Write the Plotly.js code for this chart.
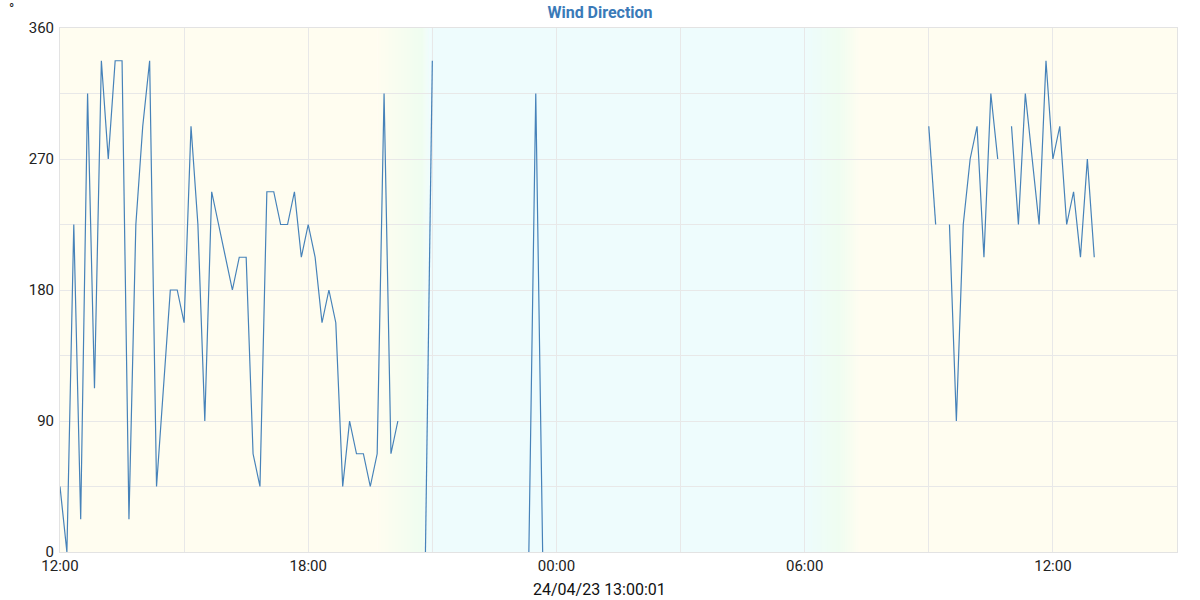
<!DOCTYPE html>
<html>
<head>
<meta charset="utf-8">
<script src="https://cdn.plot.ly/plotly-3.0.1.min.js"></script>
<style>html,body{margin:0;padding:0;background:#fff;}#chart{width:1200px;height:600px;}</style>
</head>
<body>
<div id="chart"></div>
<script>
// ---- Data (10-minute samples, degrees) ----
const segmentStarts = ["2023-04-23 12:00", "2023-04-23 20:50", "2023-04-23 23:20", "2023-04-24 09:00"];
const segment1 = [45, 0, 225, 22.5, 315, 112.5, 337.5, 270, 337.5, 337.5, 22.5, 225, 292.5, 337.5, 45, 112.5,
  180, 180, 157.5, 292.5, 225, 90, 247.5, 225, 202.5, 180, 202.5, 202.5, 67.5, 45, 247.5, 247.5, 225, 225,
  247.5, 202.5, 225, 202.5, 157.5, 180, 157.5, 45, 90, 67.5, 67.5, 45, 67.5, 315, 67.5, 90];
const segment2 = [0, 337.5];
const segment3 = [0, 315, 0];
const segment4 = [292.5, 225, null, 225, 90, 225, 270, 292.5, 202.5, 315, 270, null, 292.5, 225, 315, 270,
  225, 337.5, 270, 292.5, 225, 247.5, 202.5, 270, 202.5];
const segments = [segment1, segment2, segment3, segment4];

const xTickVals = ["2023-04-23 12:00", "2023-04-23 15:00", "2023-04-23 18:00", "2023-04-23 21:00", "2023-04-24 00:00",
  "2023-04-24 03:00", "2023-04-24 06:00", "2023-04-24 09:00", "2023-04-24 12:00", "2023-04-24 15:00"];
const xTickText = ["12:00", "", "18:00", "", "00:00", "", "06:00", "", "12:00", ""];
const yTickVals = [0, 45, 90, 135, 180, 225, 270, 315, 360];
const yTickText = ["0", "", "90", "", "180", "", "270", "", "360"];
const xTitle = "24/04/23 13:00:01";
const chartTitle = "Wind Direction";
const unitLabel = "°";

// day / night background periods
const dayColor = [255, 253, 240], dawnColor = [239, 253, 240], nightColor = [238, 252, 253];
const duskStart = "2023-04-23 19:40", duskMid = "2023-04-23 20:45", nightStart = "2023-04-23 20:57";
const nightEnd = "2023-04-24 06:00", dawnMid = "2023-04-24 06:50", dayStart = "2023-04-24 07:20";
const rangeStart = "2023-04-23 12:00", rangeEnd = "2023-04-24 15:00";

// ---- build ----
const STEP = 10 * 60 * 1000;
function toMs(s) { const [d, t] = s.split(" "); const [Y, M, D] = d.split("-").map(Number); const [h, m] = t.split(":").map(Number); return Date.UTC(Y, M - 1, D, h, m); }
function toStr(ms) { return new Date(ms).toISOString().replace("T", " ").slice(0, 19); }

const xs = [], ys = [];
segments.forEach((seg, i) => {
  const t0 = toMs(segmentStarts[i]);
  seg.forEach((v, j) => { xs.push(toStr(t0 + j * STEP)); ys.push(v); });
  xs.push(toStr(t0 + seg.length * STEP)); ys.push(null);
});

function rgb(c) { return "rgb(" + c.map(Math.round).join(",") + ")"; }
function mix(a, b, f) { return a.map((v, i) => v + (b[i] - v) * f); }
const shapes = [];
function rect(a, b, col) {
  shapes.push({ type: "rect", xref: "x", yref: "paper", x0: toStr(a), x1: toStr(b), y0: 0, y1: 1,
    fillcolor: col, line: { width: 0 }, layer: "below" });
}
function gradient(a, b, c1, c2) {
  const n = 30, ta = toMs(a), tb = toMs(b), w = (tb - ta) / n;
  for (let i = 0; i < n; i++) {
    rect(ta + i * w, ta + (i + 1.6) * w, rgb(mix(c1, c2, (i + 0.5) / n)));
  }
}
rect(toMs(rangeStart), toMs(duskStart), rgb(dayColor));
rect(toMs(nightStart), toMs(nightEnd), rgb(nightColor));
rect(toMs(dayStart), toMs(rangeEnd), rgb(dayColor));
gradient(duskStart, duskMid, dayColor, dawnColor);
gradient(duskMid, nightStart, dawnColor, nightColor);
gradient(nightEnd, dawnMid, nightColor, dawnColor);
gradient(dawnMid, dayStart, dawnColor, dayColor);

const trace = {
  x: xs, y: ys, type: "scatter", mode: "lines",
  line: { color: "rgb(70,130,185)", width: 1.2 },
  connectgaps: false, hoverinfo: "skip", showlegend: false
};

const layout = {
  width: 1200, height: 600,
  margin: { l: 60, r: 23, t: 28, b: 48 },
  paper_bgcolor: "#ffffff", plot_bgcolor: "#ffffff",
  font: { family: "Roboto, 'Noto Sans', sans-serif", size: 15, color: "#222" },
  title: { text: "<b>" + chartTitle + "</b>", x: 0.5, xref: "container", y: 0.98, yref: "container", yanchor: "middle",
    font: { size: 16, color: "rgb(58,122,184)", family: "Roboto, sans-serif" } },
  xaxis: {
    type: "date", range: [rangeStart, rangeEnd],
    tickmode: "array", tickvals: xTickVals, ticktext: xTickText,
    showgrid: true, gridcolor: "#e8e8e8", gridwidth: 1,
    showline: true, linecolor: "#e3e3e3", linewidth: 1, mirror: true,
    ticks: "", zeroline: false, tickfont: { size: 15, color: "#222" },
    automargin: false, fixedrange: true
  },
  yaxis: {
    range: [0, 360], tickmode: "array", tickvals: yTickVals, ticktext: yTickText,
    showgrid: true, gridcolor: "#e8e8e8", gridwidth: 1,
    showline: true, linecolor: "#e3e3e3", linewidth: 1, mirror: true,
    ticks: "", zeroline: false, tickfont: { size: 15, color: "#222" }, ticklabelstandoff: 2,
    automargin: false, fixedrange: true
  },
  shapes: shapes,
  annotations: [
    { text: unitLabel, xref: "paper", yref: "paper", x: -0.043, y: 1.036, xanchor: "center", yanchor: "middle",
      showarrow: false, font: { size: 14, color: "#222" } },
    { text: xTitle, xref: "paper", yref: "paper", x: 0.4834, y: -0.0725, xanchor: "center", yanchor: "middle",
      showarrow: false, font: { size: 16, color: "#111" } }
  ],
  hovermode: false
};

Plotly.newPlot("chart", [trace], layout, { displayModeBar: false, staticPlot: true });
</script>
</body>
</html>
